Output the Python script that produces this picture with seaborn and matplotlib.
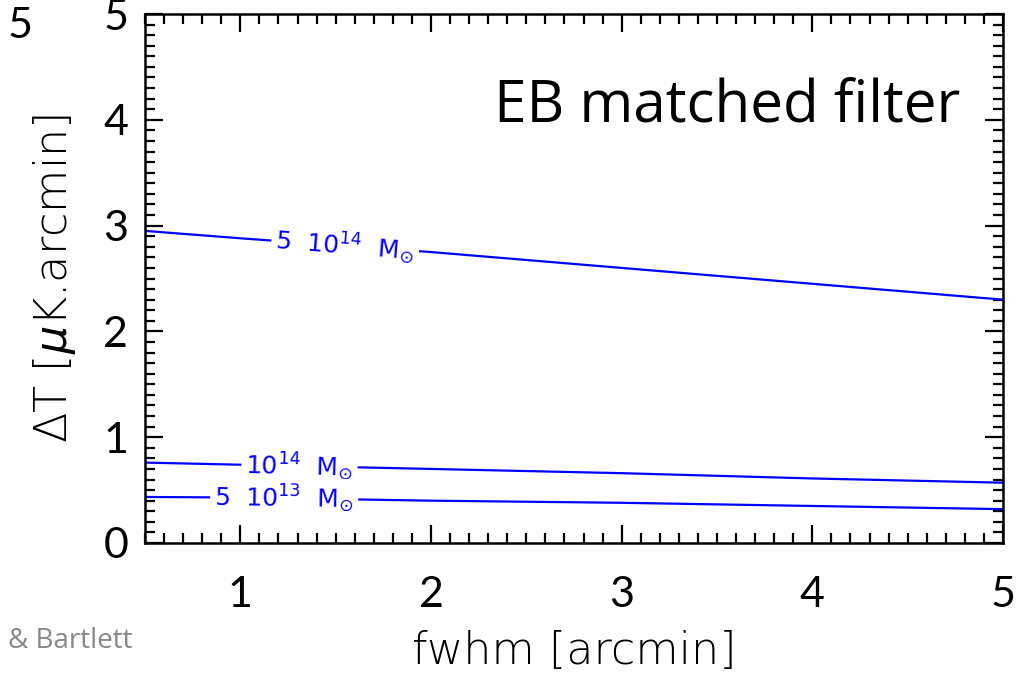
import numpy as np
import pandas as pd
import matplotlib
matplotlib.use("Agg")
import matplotlib.pyplot as plt
import seaborn as sns
from matplotlib.ticker import MultipleLocator

# ---- data ----
fwhm = [0.5, 1.0, 2.0, 3.0, 4.0, 5.0]
dT_5e14 = [2.95, 2.88, 2.75, 2.60, 2.45, 2.30]
dT_1e14 = [0.76, 0.74, 0.70, 0.66, 0.61, 0.57]
dT_5e13 = [0.435, 0.43, 0.40, 0.38, 0.35, 0.32]
mass_labels = [r"5  10$^{14}$  M$_{\odot}$", r"10$^{14}$  M$_{\odot}$", r"5  10$^{13}$  M$_{\odot}$"]
label_x = [1.55, 1.31, 1.23]
x_ticks = [1, 2, 3, 4, 5]
y_ticks = [0, 1, 2, 3, 4, 5]

series = [dT_5e14, dT_1e14, dT_5e13]
df = pd.concat([pd.DataFrame({"fwhm": fwhm, "dT": s, "mass": m})
                for s, m in zip(series, mass_labels)], ignore_index=True)

sns.set_theme(style="white")
plt.rcParams["font.family"] = ["Lato", "DejaVu Sans"]
plt.rcParams["mathtext.fontset"] = "dejavusans"
for k in ["text.color", "axes.labelcolor", "xtick.color", "ytick.color", "axes.edgecolor"]:
    plt.rcParams[k] = "black"

fig = plt.figure(figsize=(10.32, 6.75), dpi=100)
ax = fig.add_axes([145/1032, 1 - 543/675, 858/1032, 529/675])

blue = "#0000ff"
sns.lineplot(data=df, x="fwhm", y="dT", hue="mass", palette=[blue]*3,
             linewidth=1.6, legend=False, ax=ax, sort=False)

ax.set_xlim(0.5, 5)
ax.set_ylim(0, 5)
ax.xaxis.set_major_locator(plt.FixedLocator(x_ticks))
ax.yaxis.set_major_locator(plt.FixedLocator(y_ticks))
ax.xaxis.set_minor_locator(MultipleLocator(0.1))
ax.yaxis.set_minor_locator(MultipleLocator(0.1))
ax.tick_params(which="both", direction="in", top=True, right=True,
               bottom=True, left=True, color="black")
ax.tick_params(which="major", length=13, width=1.6)
ax.tick_params(which="minor", length=7, width=1.6)
ax.tick_params(axis="x", which="major", pad=24)
ax.tick_params(axis="y", which="major", pad=12)
for lab in ax.get_xticklabels() + ax.get_yticklabels():
    lab.set_fontsize(31)
    lab.set_family(["Lato", "DejaVu Sans"])
    lab.set_color("black")
for sp in ax.spines.values():
    sp.set_linewidth(1.8)
    sp.set_color("black")

ax.set_xlabel("fwhm [arcmin]", fontsize=32, family="DejaVu Sans",
              fontweight="light", labelpad=11, color="black")
ax.set_ylabel(r"ΔT [$\mu$K.arcmin]", fontsize=32, family="DejaVu Sans",
              fontweight="light", labelpad=18, color="black")

# inline contour-style labels
fig.canvas.draw()
for s, m, lx in zip(series, mass_labels, label_x):
    ly = float(np.interp(lx, fwhm, s))
    p1 = ax.transData.transform((fwhm[0], s[0]))
    p2 = ax.transData.transform((fwhm[-1], s[-1]))
    ang = np.degrees(np.arctan2(p2[1] - p1[1], p2[0] - p1[0]))
    ax.text(lx, ly, m, color=blue, fontsize=18, family="DejaVu Sans",
            ha="center", va="center",
            rotation=ang, rotation_mode="anchor",
            bbox=dict(facecolor="white", edgecolor="none", pad=3))

ax.text(0.95, 0.794, "EB matched filter", transform=ax.transAxes,
        fontsize=42, family="Open Sans", ha="right", va="baseline", color="black")

fig.text(8/1032, 1 - 26/675, "5", fontsize=31, va="center", ha="left", color="black")
fig.text(8/1032, 1 - 648/675, "& Bartlett", fontsize=20, color="#888888",
         family="Open Sans", va="baseline", ha="left")

fig.savefig("out.png", dpi=100)
